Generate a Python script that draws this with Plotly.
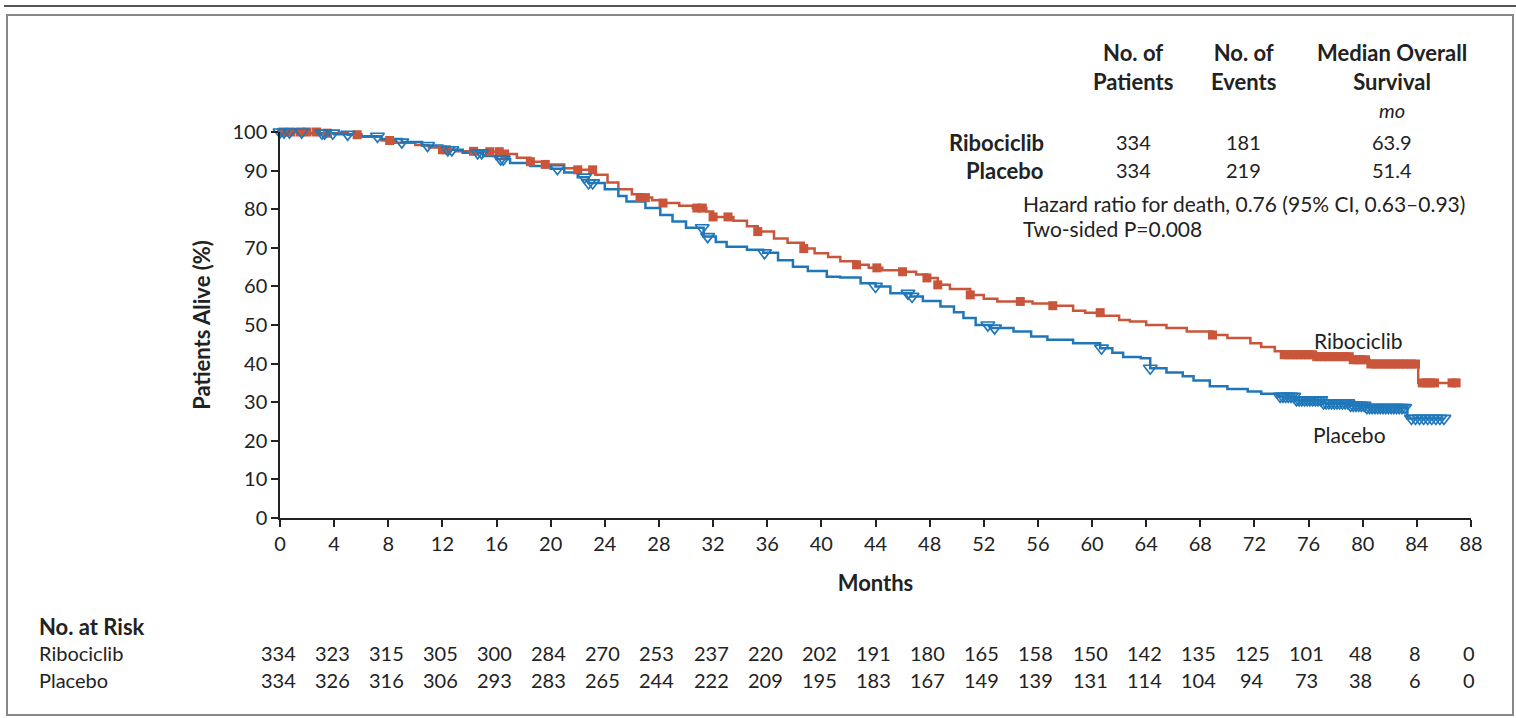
import numpy as np
import plotly.graph_objects as go

# Kaplan-Meier overall survival, step points (months, % alive)
ribo_t = [0, 3, 5, 6, 7.5, 8.5, 10, 11, 12, 13, 14.5, 16.5, 17.5, 18.5, 19.6, 21, 22, 23.3,
          24.2, 25, 26, 26.6, 27.5, 28.3, 29.5, 30.5, 31.5, 32, 33.5, 34.5, 35.3, 36.5, 37.5,
          38.7, 39.5, 40.5, 41.4, 42.6, 43.5, 44.5, 46, 47, 47.8, 48.6, 49.5, 51, 52, 53, 55.6,
          57, 58.6, 59.5, 60.8, 62, 62.8, 64, 65.5, 67, 68.9, 70, 71.7, 72.5, 73.5, 74.1, 76.6,
          79.1, 80.5, 84.1, 87]
ribo_s = [100, 99.7, 99.3, 98.8, 97.8, 97.2, 96.6, 96.0, 95.4, 95.0, 94.9, 94.3, 93.3, 92.3,
          91.6, 90.6, 90.2, 88.9, 86.9, 85.2, 83.9, 83.0, 82.3, 81.6, 80.9, 80.3, 79.4, 78.0,
          77.0, 75.6, 74.2, 72.4, 71.3, 69.8, 68.6, 67.6, 66.5, 65.6, 64.8, 64.2, 63.8, 63.1,
          62.2, 60.4, 59.3, 57.8, 56.8, 56.1, 55.6, 55.0, 53.7, 53.2, 52.4, 51.3, 50.9, 50.0,
          49.2, 48.3, 47.4, 46.6, 45.3, 44.3, 43.2, 42.3, 41.8, 41.0, 39.9, 35.0, 35.0]

plac_t = [0, 2, 4, 6, 7.5, 9, 10.5, 12, 13.5, 15, 16, 17, 18.5, 20, 21, 22, 22.8, 24, 25, 25.6,
          27, 28.1, 29, 30, 31.3, 32.2, 33, 34.5, 35.7, 36.8, 37.9, 39, 40.4, 41.4, 42.9, 44,
          45.1, 46.6, 47.5, 48.8, 49.8, 50.5, 51.4, 52.5, 54.2, 55.5, 56.7, 58.6, 60.6, 61.5,
          62.3, 63.6, 64.3, 65.5, 66.7, 67.5, 68.7, 70, 71.5, 72.5, 73.7, 75, 77, 79, 80.3,
          83.3, 86]
plac_s = [100, 99.7, 99.4, 98.9, 98.2, 97.4, 96.5, 95.4, 94.6, 93.8, 93.0, 92.0, 91.2, 90.5,
          89.5, 88.3, 86.8, 85.2, 83.4, 82.0, 80.3, 78.5, 76.8, 75.2, 72.9, 71.5, 70.3, 69.5,
          68.7, 66.8, 65.1, 64.0, 62.5, 62.3, 60.8, 60.0, 58.2, 57.4, 56.2, 54.8, 53.3, 51.8,
          50.0, 49.2, 48.3, 47.0, 46.2, 45.3, 44.0, 42.8, 41.7, 41.4, 38.8, 37.7, 36.7, 35.6,
          34.1, 33.4, 32.8, 32.2, 31.5, 30.6, 29.8, 29.2, 28.6, 25.8, 25.8]

# Censoring times (months)
ribo_cens = ([0.2, 0.8, 1.5, 2.0, 2.7, 3.5, 5.7, 8.1, 12.0, 12.3, 14.3, 15.5, 16.2, 16.6,
              18.5, 19.6, 22.0, 23.1, 26.6, 27.0, 28.3, 30.8, 31.2, 32.0, 33.1, 35.3, 38.7,
              42.6, 44.1, 46.0, 47.8, 48.6, 51.0, 54.7, 57.1, 60.6, 68.9]
             + [74.2, 74.5, 74.8, 75.1, 75.4, 75.7, 76.0, 76.3, 76.6, 76.9, 77.2, 77.5, 77.8,
                78.1, 78.4, 78.7, 79.0, 79.3, 79.6, 79.9, 80.2, 80.6, 80.9, 81.2, 81.5, 81.8,
                82.1, 82.4, 82.7, 83.0, 83.3, 83.6, 83.9, 84.4, 84.7, 85.0, 85.3, 86.6, 86.9])
plac_cens = ([0.0, 0.3, 0.7, 1.6, 3.1, 3.3, 3.9, 5.0, 7.2, 9.0, 10.9, 12.4, 12.7, 14.6, 14.9,
              16.3, 16.5, 20.5, 22.5, 22.8, 23.1, 31.2, 31.6, 35.8, 44.0, 46.4, 46.7, 52.3,
              52.8, 60.7, 64.3]
             + [73.9, 74.1, 74.3, 74.5, 74.7, 74.9, 75.1, 75.3, 75.5, 75.7, 75.9, 76.1, 76.3,
                76.5, 76.7, 76.9, 77.1, 77.3, 77.5, 77.7, 77.9, 78.1, 78.3, 78.5, 78.7, 78.9,
                79.1, 79.3, 79.5, 79.7, 79.9, 80.1, 80.3, 80.5, 80.7, 80.9, 81.1, 81.3, 81.5,
                81.7, 81.9, 82.1, 82.3, 82.5, 82.7, 82.9, 83.1, 83.6, 83.9, 84.2, 84.5, 84.8,
                85.1, 85.4, 85.7, 86.0])

month_ticks = list(range(0, 89, 4))
ribo_risk = [334, 323, 315, 305, 300, 284, 270, 253, 237, 220, 202, 191, 180, 165, 158, 150,
             142, 135, 125, 101, 48, 8, 0]
plac_risk = [334, 326, 316, 306, 293, 283, 265, 244, 222, 209, 195, 183, 167, 149, 139, 131,
             114, 104, 94, 73, 38, 6, 0]

n_patients = [334, 334]
n_events = [181, 219]
median_os = ["63.9", "51.4"]
arms = ["Ribociclib", "Placebo"]

RED = "#C9553A"
BLUE = "#1F77B9"
INK = "#222222"
FONT = "Lato"

W, H = 1516, 718
ML, MR, MT, MB = 280, 45, 132, 200
PW, PH = W - ML - MR, H - MT - MB
XMAX = 88


def px(x):
    return (x - ML) / PW


def py(y):
    return (H - MB - y) / PH


def month_px(m):
    return ML + m * PW / XMAX


def surv_at(times, steps, vals):
    idx = np.searchsorted(np.array(steps), np.array(times), side="right") - 1
    return np.array(vals)[np.clip(idx, 0, len(vals) - 1)]


fig = go.Figure()

fig.add_trace(go.Scatter(x=ribo_t, y=ribo_s, mode="lines", line=dict(color=RED, width=2.5, shape="hv"),
                         showlegend=False, cliponaxis=False))
fig.add_trace(go.Scatter(x=plac_t, y=plac_s, mode="lines", line=dict(color=BLUE, width=2.5, shape="hv"),
                         showlegend=False, cliponaxis=False))
fig.add_trace(go.Scatter(x=ribo_cens, y=surv_at(ribo_cens, ribo_t, ribo_s), mode="markers",
                         marker=dict(symbol="square", size=9, color=RED, line=dict(width=0)),
                         showlegend=False, cliponaxis=False))
fig.add_trace(go.Scatter(x=plac_cens, y=surv_at(plac_cens, plac_t, plac_s), mode="markers",
                         marker=dict(symbol="triangle-down-open", size=12, color=BLUE,
                                     line=dict(width=1.7, color=BLUE)),
                         showlegend=False, cliponaxis=False))

fig.update_xaxes(range=[0, XMAX], tickvals=month_ticks, ticks="outside", ticklen=7, tickwidth=1.5,
                 tickcolor=INK, showline=True, linecolor=INK, linewidth=1.5, showgrid=False,
                 zeroline=False, tickfont=dict(family=FONT, size=20, color=INK),
                 title=dict(text="<b>Months</b>", font=dict(family=FONT, size=22, color=INK), standoff=22))
fig.update_yaxes(range=[0, 100], dtick=10, ticks="outside", ticklen=7, tickwidth=1.5,
                 tickcolor=INK, showline=True, linecolor=INK, linewidth=1.5, showgrid=False,
                 zeroline=False, tickfont=dict(family=FONT, size=20, color=INK),
                 title=dict(text="<b>Patients Alive (%)</b>", font=dict(family=FONT, size=22, color=INK),
                            standoff=16))

ann = []


def text(x, y, s, size=20, xa="center", bold=False, italic=False):
    if bold:
        s = f"<b>{s}</b>"
    if italic:
        s = f"<i>{s}</i>"
    ann.append(dict(x=px(x), y=py(y), xref="paper", yref="paper", text=s,
                    showarrow=False, xanchor=xa, yanchor="middle",
                    font=dict(family=FONT, size=size, color=INK)))


# Summary table in the upper right
text(1133, 67, "No. of<br>Patients", size=22, bold=True)
text(1243, 67, "No. of<br>Events", size=22, bold=True)
text(1392, 67, "Median Overall<br>Survival", size=22, bold=True)
text(1392, 110, "mo", size=20, italic=True)
for i, yy in enumerate([142, 170]):
    text(1046, yy, arms[i], size=22, bold=True, xa="right")
    text(1133, yy, str(n_patients[i]), size=20)
    text(1243, yy, str(n_events[i]), size=20)
    text(1392, yy, median_os[i], size=20)
text(1021, 203, "Hazard ratio for death, 0.76 (95% CI, 0.63–0.93)", size=21, xa="left")
text(1021, 228, "Two-sided P=0.008", size=21, xa="left")

# Curve labels
text(1358, 340, "Ribociclib", size=21)
text(1349, 434, "Placebo", size=21)

# Number at risk
text(37, 626, "No. at Risk", size=22, bold=True, xa="left")
text(37, 653, "Ribociclib", size=20, xa="left")
text(37, 680, "Placebo", size=20, xa="left")
for m, r1, r2 in zip(month_ticks, ribo_risk, plac_risk):
    text(month_px(m) - 2, 653, str(r1), size=20)
    text(month_px(m) - 2, 680, str(r2), size=20)

shapes = [
    dict(type="line", xref="paper", yref="paper", x0=px(4), x1=px(1516), y0=py(6), y1=py(6),
         line=dict(color="#555555", width=2)),
    dict(type="rect", xref="paper", yref="paper", x0=px(7), x1=px(1513), y0=py(15), y1=py(715),
         line=dict(color="#888888", width=2)),
]

fig.update_layout(width=W, height=H, margin=dict(l=ML, r=MR, t=MT, b=MB),
                  paper_bgcolor="white", plot_bgcolor="white", annotations=ann, shapes=shapes,
                  font=dict(family=FONT, color=INK))

fig.write_html("out.html")
